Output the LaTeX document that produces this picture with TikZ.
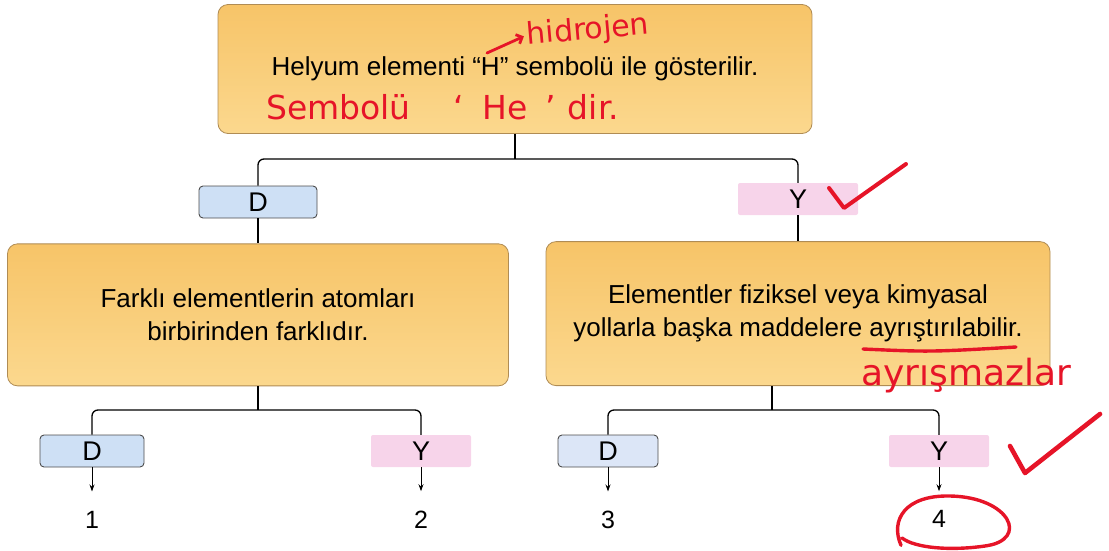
\documentclass[tikz,border=0pt]{standalone}
\usepackage{fontspec}
\setmainfont{Liberation Sans}
\newfontfamily\handfont{DejaVu Sans}
\usepackage{xcolor}
\usetikzlibrary{arrows.meta,positioning}

\definecolor{boxtop}{RGB}{247,196,104}
\definecolor{boxbot}{RGB}{251,216,142}
\definecolor{boxline}{RGB}{176,140,84}
\definecolor{dfill}{RGB}{206,224,245}
\definecolor{dfilltwo}{RGB}{220,230,247}
\definecolor{yfill}{RGB}{247,212,234}
\definecolor{pen}{RGB}{230,20,40}

\begin{document}
\begin{tikzpicture}[
  x=1pt, y=-1pt,
  qbox/.style={draw=boxline, line width=0.8pt, rounded corners=10pt, top color=boxtop, bottom color=boxbot, align=center, font=\fontsize{26}{33}\selectfont},
  dbox/.style={draw=black!70, line width=0.9pt, rounded corners=4pt, fill=dfill, minimum height=32pt, inner sep=0pt, font=\fontsize{27}{27}\selectfont},
  ybox/.style={rounded corners=2pt, fill=yfill, minimum height=32pt, minimum width=100pt, inner sep=0pt, font=\fontsize{27}{27}\selectfont},
  num/.style={font=\fontsize{25}{25}\selectfont},
  conn/.style={line width=1.3pt, rounded corners=6pt},
  arr/.style={line width=1pt, -{Stealth[length=7pt,width=5pt]}, shorten >=16pt},
  redpen/.style={draw=pen, line width=4pt, line cap=round, line join=round},
  hand/.style={text=pen, inner sep=0pt, font=\handfont\fontsize{30}{30}\selectfont}
]
\useasboundingbox (0,0) rectangle (1109,550);

% question boxes
\node[qbox, minimum width=594pt, minimum height=129pt] (top) at (515,69) {Helyum elementi “H” sembolü ile gösterilir.};
\node[dbox, minimum width=118pt] (dA) at (258,202) {D};
\node[ybox, minimum width=120pt] (yA) at (798,199) {Y};
\node[qbox, minimum width=501pt, minimum height=142pt, below=25pt of dA] (left) {Farklı elementlerin atomları\\birbirinden farklıdır.};
\node[qbox, minimum width=504pt, minimum height=144pt, below=26pt of yA] (right) {Elementler fiziksel veya kimyasal\\yollarla başka maddelere ayrıştırılabilir.};

% answers
\node[dbox, minimum width=104pt] (dB) at (92,451) {D};
\node[ybox] (yB) at (421,451) {Y};
\node[dbox, fill=dfilltwo, minimum width=100pt] (dC) at (608,451) {D};
\node[ybox] (yC) at (939,451) {Y};

\node[num, below=40pt of dB] (n1) {1};
\node[num, below=40pt of yB] (n2) {2};
\node[num, below=40pt of dC] (n3) {3};
\node[num, below=40pt of yC] (n4) {4};

% tree lines
\coordinate (jA) at (515,159);
\coordinate (jB) at (258,410);
\coordinate (jC) at (772,410);
\draw[conn] (top.south) -- (jA);
\draw[conn] (dA.north) |- (jA) -| (yA.north);
\draw[conn] (dA.south) -- (left.north -| dA.south);
\draw[conn] (yA.south) -- (right.north -| yA.south);
\draw[conn] (jB |- left.south) -- (jB);
\draw[conn] (dB.north) |- (jB) -| (yB.north);
\draw[conn] (jC |- right.south) -- (jC);
\draw[conn] (dC.north) |- (jC) -| (yC.north);

\draw[arr] (dB.south) -- (n1);
\draw[arr] (yB.south) -- (n2);
\draw[arr] (dC.south) -- (n3);
\draw[arr] (yC.south) -- (n4);

% red pen notes
\node[hand, rotate=5] (hid) at (588,31) {hidrojen};
\draw[redpen, line width=2.8pt, -{Straight Barb[length=5pt]}] (487,53) -- ([xshift=-3pt]hid.west);
\node[hand, anchor=west, font=\handfont\fontsize{33}{33}\selectfont] (semb) at (266,107) {Sembolü\hspace{43pt}‘\hspace{18pt}He\hspace{18pt}’\hspace{12pt}dir.};
\draw[redpen] (829,188) -- (844,208) -- (906,164);
\draw[redpen, line width=3.4pt] (863,349) .. controls (930,352) .. (1016,347);
\node[hand, font=\handfont\fontsize{36}{36}\selectfont] (ayr) at (966,376) {ayrışmazlar};
\draw[redpen, line width=4.6pt] (1010,446) -- (1025,473) -- (1100,414);
\draw[redpen, line width=3.4pt] (n4) ++(-38,26) .. controls (890,520) and (905,495) .. (950,496) .. controls (1010,497) and (1030,540) .. (985,546) .. controls (950,551) and (915,548) .. (902,538);
\end{tikzpicture}
\end{document}
